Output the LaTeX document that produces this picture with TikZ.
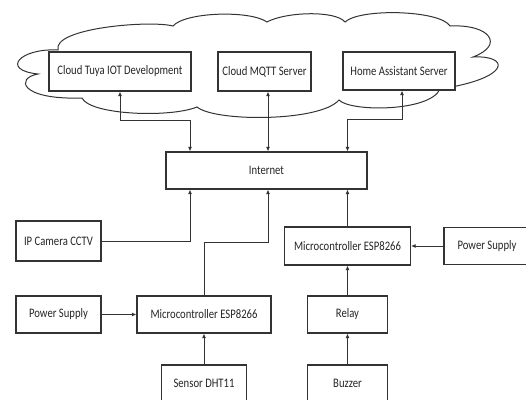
\documentclass[tikz,border=0pt]{standalone}
\usepackage{fontspec}
\setmainfont{Carlito}[FakeStretch=0.82]
\usetikzlibrary{arrows.meta,positioning}

\tikzset{
  blok/.style={draw=black!80, line width=1.1pt, fill=white, inner sep=0pt,
    text=black!85, font=\fontsize{13}{15}\selectfont},
  panah/.style={draw=black!80, line width=1pt, -{Latex[length=4.5pt,width=4pt]}},
  duapanah/.style={draw=black!80, line width=1pt, {Latex[length=4.5pt,width=4pt]}-{Latex[length=4.5pt,width=4pt]}},
  awan/.style={line width=1pt, draw=black!80},
}

\begin{document}
\begin{tikzpicture}[x=1pt,y=-1pt]
  \path[use as bounding box, clip] (0,0) rectangle (526,399);
  % cloud
  \draw[awan] (58,50)
        .. controls (52,28) and (150,20) .. (173,26)
        .. controls (185,12) and (250,10) .. (267,22)
        .. controls (285,12) and (335,10) .. (345,22)
        .. controls (360,8) and (440,10) .. (450,26)
        .. controls (490,24) and (505,45) .. (473,57)
        .. controls (510,55) and (512,78) .. (440,89)
        .. controls (430,112) and (350,112) .. (339,100)
        .. controls (320,122) and (215,122) .. (197,107)
        .. controls (170,118) and (90,115) .. (82,98)
        .. controls (20,100) and (15,78) .. (38,74)
        .. controls (0,70) and (20,48) .. (58,50) -- cycle;
  % boxes
  \node[blok, minimum width=142pt, minimum height=39pt] (tuya) at (120,71.5) {Cloud Tuya IOT Development};
  \node[blok, minimum width=93pt, minimum height=39pt] (mqtt) at (264.5,71.5) {Cloud MQTT Server};
  \node[blok, minimum width=112pt, minimum height=38pt] (has) at (399,71) {Home Assistant Server};
  \node[blok, minimum width=201pt, minimum height=37pt] (inet) at (266.5,170.5) {Internet};
  \node[blok, minimum width=85pt, minimum height=40pt] (cctv) at (58.5,241) {IP Camera CCTV};
  \node[blok, minimum width=126pt, minimum height=38pt] (mcuR) at (347.5,246) {Microcontroller ESP8266};
  \node[blok, minimum width=86pt, minimum height=37pt] (psR) at (487,246) {Power Supply};
  \node[blok, minimum width=85pt, minimum height=37pt] (psL) at (58.5,314.5) {Power Supply};
  \node[blok, minimum width=134pt, minimum height=37pt] (mcuL) at (204,314.5) {Microcontroller ESP8266};
  \node[blok, minimum width=80pt, minimum height=37pt] (relay) at (347.5,314.5) {Relay};
  \node[blok, minimum width=85pt, minimum height=37pt] (dht) at (204,383.5) {Sensor DHT11};
  \node[blok, minimum width=80pt, minimum height=37pt] (buzzer) at (347.5,383.5) {Buzzer};
  % links to the cloud
  \draw[duapanah] (tuya.south) -- ++(0,29) -| ([xshift=-76.5pt]inet.north);
  \draw[duapanah] ([xshift=1.5pt]inet.north) -- ([xshift=1.5pt]inet.north |- mqtt.south);
  \draw[duapanah] ([xshift=3pt]has.south) -- ++(0,29) -| ([xshift=81pt]inet.north);
  % links to the internet
  \draw[panah] (cctv.east) -| ([xshift=-76.5pt]inet.south);
  \draw[panah] (mcuL.north) -- ++(0,-53) -| ([xshift=1.5pt]inet.south);
  \draw[panah] (mcuR.north) -- (mcuR.north |- inet.south);
  % local devices
  \draw[panah] (psR) -- (mcuR);
  \draw[panah] (psL) -- (mcuL);
  \draw[panah] (dht) -- (mcuL);
  \draw[panah] (relay) -- (mcuR);
  \draw[panah] (buzzer) -- (relay);
\end{tikzpicture}
\end{document}
